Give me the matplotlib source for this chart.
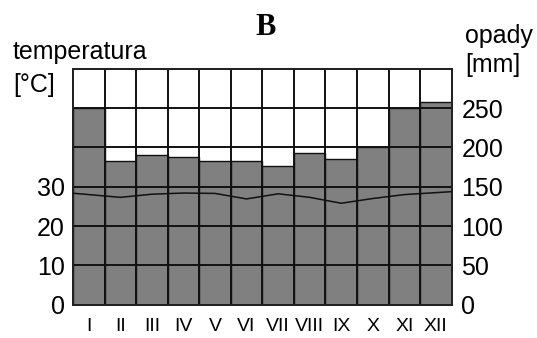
import matplotlib
matplotlib.use("Agg")
import matplotlib.pyplot as plt
import numpy as np

plt.rcParams['font.family'] = ['Liberation Sans', 'DejaVu Sans']

# monthly climate data (station "B")
months = ["I", "II", "III", "IV", "V", "VI", "VII", "VIII", "IX", "X", "XI", "XII"]
opady = [250, 183, 190, 188, 183, 183, 177, 193, 185, 200, 250, 258]          # mm
temperatura = [28.0, 27.3, 28.1, 28.4, 28.3, 26.9, 28.2, 27.3, 25.8, 27.0, 28.0, 28.5]  # deg C

temp_ticks = [0, 10, 20, 30]
rain_ticks = [0, 50, 100, 150, 200, 250]

fig = plt.figure(figsize=(5.37, 3.38), dpi=100)
ax = fig.add_axes([0.136, 0.099, 0.705, 0.697])
ax2 = ax.twinx()

x = np.arange(len(months)) + 0.5

# precipitation bars (right axis)
ax2.bar(x, opady, width=1.0, color="#808080", edgecolor="#111111", linewidth=1.0, zorder=1)
ax2.set_ylim(0, 300)
ax2.set_yticks(rain_ticks)

# temperature axis on top of the bars
ax.set_zorder(ax2.get_zorder() + 1)
ax.patch.set_visible(False)
ax.set_ylim(0, 60)
ax.set_xlim(0, 12)
ax.set_yticks(temp_ticks)
ax.set_yticks([40, 50], minor=True)
ax.set_xticks(x)
ax.set_xticklabels(months)
ax.set_xticks(np.arange(1, 12), minor=True)
ax.grid(True, which="both", color="#111111", linewidth=1.4)
ax.xaxis.grid(False, which="major")

# temperature curve, extended to the frame edges
t = np.array(temperatura)
xt = np.concatenate([[0], x, [12]])
yt = np.concatenate([[t[0] - (t[1] - t[0]) / 2], t, [t[-1] + (t[-1] - t[-2]) / 2]])
ax.plot(xt, yt, color="#111111", linewidth=1.1, zorder=5)

for a in (ax, ax2):
    for s in a.spines.values():
        s.set_linewidth(1.4)
        s.set_color("#222222")
    a.tick_params(axis="both", which="both", length=0)

ax.tick_params(axis="y", labelsize=18, pad=6)
ax.tick_params(axis="x", labelsize=14, pad=10)
ax2.tick_params(axis="y", labelsize=18, pad=7)

fig.text(0.024, 0.825, "temperatura", fontsize=18, va="baseline", ha="left")
fig.text(0.024, 0.728, "[°C]", fontsize=18, va="baseline", ha="left")
fig.text(0.866, 0.874, "opady", fontsize=18, va="baseline", ha="left")
fig.text(0.866, 0.788, "[mm]", fontsize=18, va="baseline", ha="left")
fig.text(0.494, 0.896, "B", fontsize=22, fontweight="bold",
         family=["Liberation Serif", "DejaVu Serif"], va="baseline", ha="center")

fig.savefig("out.png", dpi=100)
